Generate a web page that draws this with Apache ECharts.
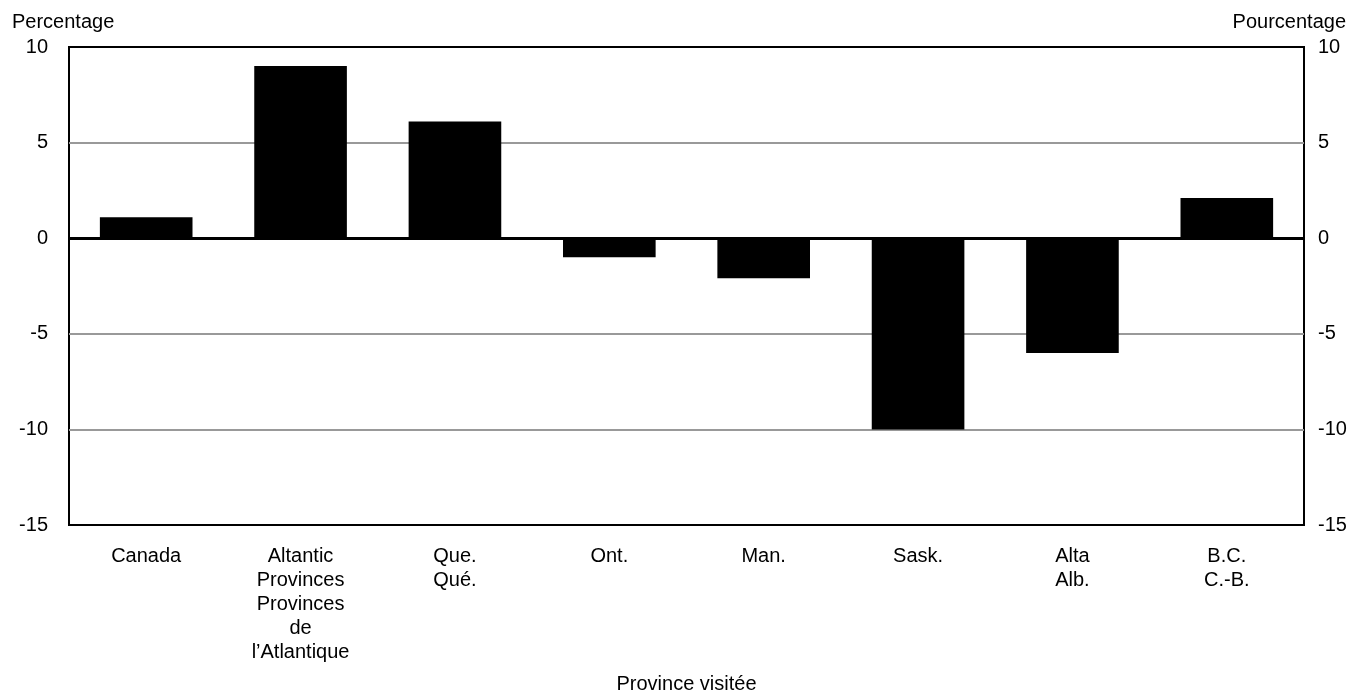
<!DOCTYPE html>
<html>
<head>
<meta charset="utf-8">
<script src="https://cdn.jsdelivr.net/npm/echarts@6/dist/echarts.min.js"></script>
<style>
html,body{margin:0;padding:0;background:#fff;}
#chart{width:1366px;height:696px;}
</style>
</head>
<body>
<div id="chart"></div>
<script>
var categories = ["Canada", "Altantic\nProvinces\nProvinces\nde\nl\u2019Atlantique", "Que.\nQu\u00e9.", "Ont.", "Man.", "Sask.", "Alta\nAlb.", "B.C.\nC.-B."];
var values = [1.1, 9.0, 6.1, -1.0, -2.1, -10.0, -6.0, 2.1];
var yTicks = { min: -15, max: 10, interval: 5 };
var leftTitle = "Percentage";
var rightTitle = "Pourcentage";
var xTitle = "Province visit\u00e9e";

var FONT = "'Liberation Sans', Arial, Helvetica, sans-serif";
var chart = echarts.init(document.getElementById('chart'), null, {renderer: 'canvas'});
chart.setOption({
  animation: false,
  backgroundColor: '#fff',
  textStyle: { fontFamily: FONT, color: '#000' },
  title: [
    { text: leftTitle, left: 7, top: 7, textStyle: { fontFamily: FONT, fontSize: 20, fontWeight: 'normal', color: '#000' } },
    { text: rightTitle, right: 15, top: 7, textStyle: { fontFamily: FONT, fontSize: 20, fontWeight: 'normal', color: '#000' } }
  ],
  grid: { left: 69, right: 62, top: 47, bottom: 171, outerBoundsMode: 'none', containLabel: false, show: true, borderColor: '#000', borderWidth: 2, backgroundColor: 'transparent' },
  xAxis: {
    type: 'category',
    data: categories,
    name: xTitle,
    nameLocation: 'middle',
    nameGap: 149,
    nameTextStyle: { fontFamily: FONT, fontSize: 20, color: '#000' },
    axisLine: { show: false },
    axisTick: { show: false },
    axisLabel: { fontFamily: FONT, fontSize: 20, color: '#000', lineHeight: 24, margin: 19, interval: 0 }
  },
  yAxis: [
    {
      type: 'value', position: 'left', min: yTicks.min, max: yTicks.max, interval: yTicks.interval,
      axisLine: { show: false }, axisTick: { show: false },
      axisLabel: { fontFamily: FONT, fontSize: 20, color: '#000', margin: 21 },
      splitLine: { show: true, showMinLine: false, showMaxLine: false, lineStyle: { color: '#999', width: 2 } }
    },
    {
      type: 'value', position: 'right', min: yTicks.min, max: yTicks.max, interval: yTicks.interval,
      axisLine: { show: false }, axisTick: { show: false },
      axisLabel: { fontFamily: FONT, fontSize: 20, color: '#000', margin: 14 },
      splitLine: { show: false }
    }
  ],
  series: [{
    type: 'bar',
    data: values,
    barWidth: '60%',
    itemStyle: { color: '#000' },
    markLine: {
      silent: true,
      symbol: 'none',
      label: { show: false },
      lineStyle: { color: '#000', width: 3, type: 'solid' },
      data: [{ yAxis: 0 }]
    }
  }]
});
</script>
</body>
</html>
